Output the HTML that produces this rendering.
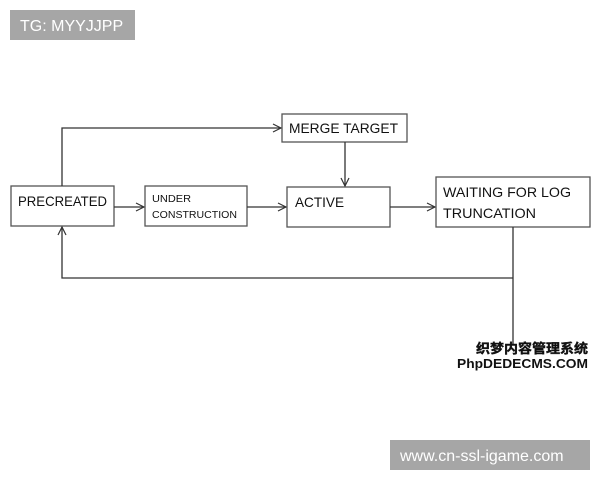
<!DOCTYPE html>
<html><head><meta charset="utf-8"><style>
html,body{margin:0;padding:0;background:#fff;width:600px;height:480px;overflow:hidden}
</style></head><body>
<svg width="600" height="480" xmlns="http://www.w3.org/2000/svg" style="position:absolute;left:0;top:0">
<defs><marker id="a" markerWidth="10" markerHeight="10" refX="9" refY="5" orient="auto" markerUnits="userSpaceOnUse"><path d="M1,1 L9,5 L1,9" fill="none" stroke="#333" stroke-width="1.2"/></marker></defs>
<rect x="10" y="10" width="125" height="30" fill="#a6a6a6"/>
<text x="20" y="31" font-family="Liberation Sans, sans-serif" font-size="16" fill="#fff">TG: MYYJJPP</text>
<rect x="390" y="440" width="200" height="30" fill="#a6a6a6"/>
<text x="400" y="461" font-family="Liberation Sans, sans-serif" font-size="16" fill="#fff">www.cn-ssl-igame.com</text>
<g fill="#fff" stroke="#555" stroke-width="1.3">
<rect x="11" y="186" width="103" height="40"/>
<rect x="145" y="186" width="102" height="40"/>
<rect x="287" y="187" width="103" height="40"/>
<rect x="282" y="114" width="125" height="28"/>
<rect x="436" y="177" width="154" height="50"/>
</g>
<g fill="none" stroke="#333" stroke-width="1.3">
<path d="M62,186 V128 H281" marker-end="url(#a)"/>
<path d="M345,142 V186" marker-end="url(#a)"/>
<path d="M114,207 H144" marker-end="url(#a)"/>
<path d="M247,207 H286" marker-end="url(#a)"/>
<path d="M390,207 H435" marker-end="url(#a)"/>
<path d="M513,227 V345"/>
<path d="M513,278 H62 V227" marker-end="url(#a)"/>
</g>
<g font-family="Liberation Sans, sans-serif" fill="#111">
<text x="18" y="206" font-size="14" textLength="89" lengthAdjust="spacingAndGlyphs">PRECREATED</text>
<text x="152" y="202" font-size="10" textLength="39" lengthAdjust="spacingAndGlyphs">UNDER</text>
<text x="152" y="218" font-size="10" textLength="85" lengthAdjust="spacingAndGlyphs">CONSTRUCTION</text>
<text x="295" y="207" font-size="14" textLength="49" lengthAdjust="spacingAndGlyphs">ACTIVE</text>
<text x="289" y="133" font-size="14" textLength="109" lengthAdjust="spacingAndGlyphs">MERGE TARGET</text>
<text x="443" y="197" font-size="14" textLength="128" lengthAdjust="spacingAndGlyphs">WAITING FOR LOG</text>
<text x="443" y="218" font-size="14" textLength="93" lengthAdjust="spacingAndGlyphs">TRUNCATION</text>
</g>
<text x="476" y="353" font-family="Liberation Sans, Noto Sans CJK SC, sans-serif" font-size="13" font-weight="bold" fill="#111" stroke="#111" stroke-width="0.4" textLength="112" lengthAdjust="spacingAndGlyphs">织梦内容管理系统</text>
<text x="457" y="368" font-family="Liberation Sans, sans-serif" font-size="13" font-weight="bold" fill="#111" textLength="131" lengthAdjust="spacingAndGlyphs">PhpDEDECMS.COM</text>
</svg>
</body></html>
